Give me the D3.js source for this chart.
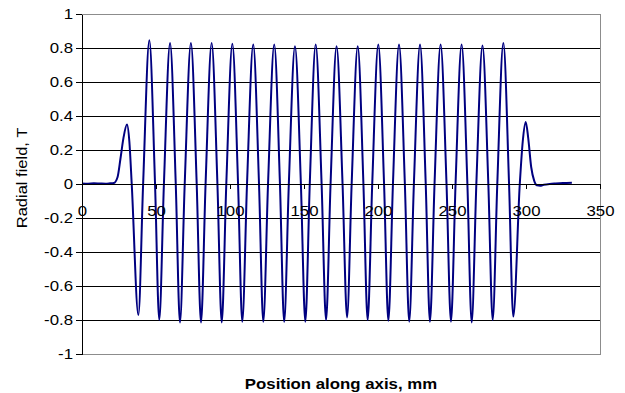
<!DOCTYPE html>
<html>
<head>
<meta charset="utf-8">
<script src="https://cdn.jsdelivr.net/npm/d3@7"></script>
<style>
  html, body { margin: 0; padding: 0; background: #fff; }
  svg text { font-family: "Liberation Sans", Arial, sans-serif; fill: #000; }
</style>
</head>
<body>
<div id="chart"></div>
<script>
// field profile (position in mm, radial field in T)
const posMm = [
  0, 4, 8, 12, 16, 19, 21.5, 24, 26, 28, 30.4, 32, 33.6,
  38.1, 41.3, 45.5, 49.35, 52.2, 55.35, 59.5, 63.35, 66.2, 69.4,
  73.6, 77.5, 80.4, 83.5, 87.6, 91.5, 94.4, 97.5, 101.6, 105.45,
  108.3, 111.5, 115.7, 119.6, 122.5, 125.7, 129.9, 133.75, 136.6, 139.75,
  143.9, 147.9, 150.9, 153.9, 157.9, 161.9, 164.9, 167.95, 172.0, 176.05,
  179.1, 182.2, 186.3, 190.15, 193.0, 196.1, 200.2, 204.1, 207.0, 210.1,
  214.2, 218.15, 221.1, 224.25, 228.4, 232.25, 235.1, 238.2, 242.3, 246.3,
  249.3, 252.4, 256.5, 260.4, 263.3, 266.45, 270.6, 274.55, 277.5, 280.6,
  284.7, 288.55, 291.4, 295.8, 297.8, 299.8, 301.5, 303.5, 305.5, 307.5,
  309.5, 312, 316, 320, 325, 331
];
const fieldT = [
  0.003, 0.002, 0.004, 0.003, 0.002, 0.004, 0.006, 0.04, 0.15, 0.27, 0.35, 0.25, 0,
  -0.77, 0, 0.845, 0, -0.80, 0, 0.83, 0, -0.815, 0,
  0.83, 0, -0.815, 0, 0.83, 0, -0.815, 0, 0.825, 0,
  -0.81, 0, 0.82, 0, -0.81, 0, 0.82, 0, -0.81, 0,
  0.81, 0, -0.81, 0, 0.82, 0, -0.80, 0, 0.81, 0,
  -0.785, 0, 0.81, 0, -0.80, 0, 0.82, 0, -0.805, 0,
  0.82, 0, -0.81, 0, 0.82, 0, -0.81, 0, 0.82, 0,
  -0.81, 0, 0.82, 0, -0.815, 0, 0.815, 0, -0.80, 0,
  0.83, 0, -0.78, 0, 0.25, 0.365, 0.27, 0.1, 0.02, -0.008,
  -0.01, -0.005, 0.0, 0.003, 0.006, 0.008
];

const xTicks = [0, 50, 100, 150, 200, 250, 300, 350];
const xTickLabels = ["0", "50", "100", "150", "200", "250", "300", "350"];
const yTicks = [-1, -0.8, -0.6, -0.4, -0.2, 0, 0.2, 0.4, 0.6, 0.8, 1];
const yTickLabels = ["-1", "-0.8", "-0.6", "-0.4", "-0.2", "0", "0.2", "0.4", "0.6", "0.8", "1"];

const xTitle = "Position along axis, mm";
const yTitle = "Radial field, T";

const W = 625, H = 393;
const margin = { top: 14, right: 25, bottom: 39, left: 82 };
const width = W - margin.left - margin.right;
const height = H - margin.top - margin.bottom;

const svg = d3.select('#chart').append('svg')
  .attr('width', W)
  .attr('height', H);

const g = svg.append('g')
  .attr('transform', `translate(${margin.left},${margin.top})`);

const x = d3.scaleLinear().domain([0, 350]).range([0, width]);
const y = d3.scaleLinear().domain([-1, 1]).range([height, 0]);

// the font in the picture runs a bit wider than Arial
function widen(sel, k) {
  sel.each(function () {
    const len = this.getComputedTextLength();
    d3.select(this).attr('textLength', len * k).attr('lengthAdjust', 'spacingAndGlyphs');
  });
}

// horizontal gridlines
g.append('g')
  .attr('class', 'grid')
  .call(d3.axisLeft(y).tickValues(yTicks.filter(v => Math.abs(v) < 1)).tickSize(-width).tickFormat(''))
  .call(s => s.select('.domain').remove())
  .selectAll('line')
  .attr('stroke', '#000')
  .attr('shape-rendering', 'crispEdges');

// plot area border
g.append('rect')
  .attr('x', 0).attr('y', 0)
  .attr('width', width).attr('height', height)
  .attr('fill', 'none')
  .attr('stroke', '#8c8c8c')
  .attr('shape-rendering', 'crispEdges');

// series
const pts = posMm.map((p, i) => [p, fieldT[i]]);
const line = d3.line()
  .x(d => x(d[0]))
  .y(d => y(d[1]))
  .curve(d3.curveMonotoneX);

g.append('path')
  .datum(pts)
  .attr('fill', 'none')
  .attr('stroke', '#000080')
  .attr('stroke-width', 2)
  .attr('stroke-linejoin', 'round')
  .attr('d', line);

// y axis
const yAxis = g.append('g')
  .attr('class', 'y axis')
  .call(d3.axisLeft(y).tickValues(yTicks).tickFormat((d, i) => yTickLabels[i]).tickSize(6).tickSizeOuter(0).tickPadding(3));
yAxis.selectAll('line, path').attr('stroke', '#000').attr('shape-rendering', 'crispEdges');
yAxis.selectAll('text')
  .style('font-size', '15px')
  .call(widen, 1.12);

// x axis sits on y = 0
const xAxis = g.append('g')
  .attr('class', 'x axis')
  .attr('transform', `translate(0,${y(0)})`)
  .call(d3.axisBottom(x).tickValues(xTicks).tickFormat((d, i) => xTickLabels[i]).tickSize(5).tickSizeOuter(0).tickPadding(16));
xAxis.selectAll('line, path').attr('stroke', '#000').attr('shape-rendering', 'crispEdges');
xAxis.selectAll('text')
  .style('font-size', '15px')
  .call(widen, 1.12);
svg.selectAll('.axis').attr('font-family', null).attr('font-size', null);

// axis titles
svg.append('text')
  .attr('x', margin.left + width / 2)
  .attr('y', 389)
  .attr('text-anchor', 'middle')
  .style('font-size', '15px')
  .style('font-weight', 'bold')
  .text(xTitle)
  .call(widen, 1.12);

svg.append('text')
  .attr('transform', `translate(27,178) rotate(-90)`)
  .attr('text-anchor', 'middle')
  .style('font-size', '15px')
  .text(yTitle)
  .call(widen, 1.1);
</script>
</body>
</html>
